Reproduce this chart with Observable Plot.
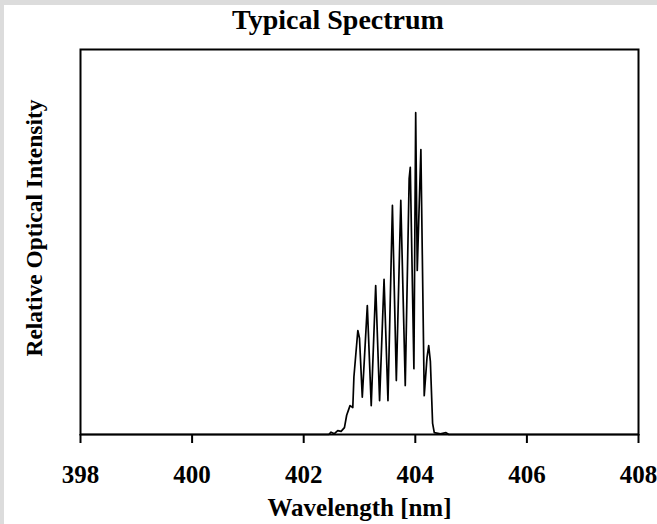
<!DOCTYPE html>
<html>
<head>
<meta charset="utf-8">
<script src="https://cdn.jsdelivr.net/npm/d3@7"></script>
<script src="https://cdn.jsdelivr.net/npm/@observablehq/plot@0.6"></script>
<style>
  html, body { margin: 0; padding: 0; background: #dcdcdc; }
  #panel { position: absolute; left: 4px; top: 5px; width: 653px; height: 519px; background: #fff; }
  #wrap { position: absolute; left: 0; top: 0; width: 657px; height: 524px; }
  #title { box-sizing: border-box; width: 657px; height: 40px; padding-left: 19px; text-align: center;
           font: bold 28px "Liberation Serif", "Times New Roman", serif; line-height: 40px; color: #000; }
  svg { background: transparent !important; overflow: visible; display: block; }
</style>
</head>
<body>
<div id="panel"></div>
<div id="wrap">
  <div id="title">Typical Spectrum</div>
  <div id="chart"></div>
</div>
<script>
const titleText = "Typical Spectrum";
const xLabel = "Wavelength [nm]";
const yLabel = "Relative Optical Intensity";
const xTicks = [398, 400, 402, 404, 406, 408];

// Wavelength (nm) and relative intensity
const wavelength = [398.0, 402.45, 402.49, 402.55, 402.61, 402.67, 402.73, 402.77, 402.83, 402.88, 402.90, 402.97, 403.00,
  403.05, 403.14, 403.21, 403.29, 403.36, 403.44, 403.51, 403.59, 403.66, 403.74, 403.82, 403.89, 403.91,
  403.975, 404.007, 404.035, 404.10, 404.16, 404.21, 404.24, 404.27, 404.31, 404.34, 404.45, 404.55, 404.60, 408.0];
const intensity = [0, 0, 6, 2, 10, 8, 18, 50, 75, 70, 150, 270, 250,
  97, 335, 75, 387, 88, 403, 88, 595, 140, 608, 127, 665, 694,
  171, 836, 426, 740, 101, 200, 231, 190, 29, 5, 2, 5, 0, 0];

const data = wavelength.map((w, i) => ({w, v: intensity[i]}));
const font = '"Liberation Serif", "Times New Roman", serif';

const chart = Plot.plot({
  width: 657,
  height: 484,
  marginLeft: 80,
  marginRight: 19,
  marginTop: 9,
  marginBottom: 90,
  style: {fontFamily: font, fontWeight: "bold", fontSize: "25px", color: "#000", background: "transparent"},
  x: {domain: [398, 408], axis: null},
  y: {domain: [0, 1000], axis: null},
  marks: [
    Plot.line(data, {x: "w", y: "v", stroke: "#000", strokeWidth: 1.7}),
    Plot.axisX({ticks: xTicks, tickSize: 9, tickPadding: 22, strokeWidth: 2, fontSize: 25,
                tickFormat: d => String(d), label: null}),
    Plot.frame({stroke: "#000", strokeWidth: 2}),
    Plot.text([xLabel], {frameAnchor: "bottom", dy: 73, lineAnchor: "middle", textAnchor: "middle",
                         fontSize: 25, fontWeight: "bold", fill: "#000"}),
    Plot.text([yLabel], {frameAnchor: "left", dx: -46, dy: -14, rotate: -90, lineAnchor: "middle",
                         textAnchor: "middle", fontSize: 23.5, fontWeight: "bold", fill: "#000"})
  ]
});
document.getElementById("chart").appendChild(chart);
</script>
</body>
</html>
